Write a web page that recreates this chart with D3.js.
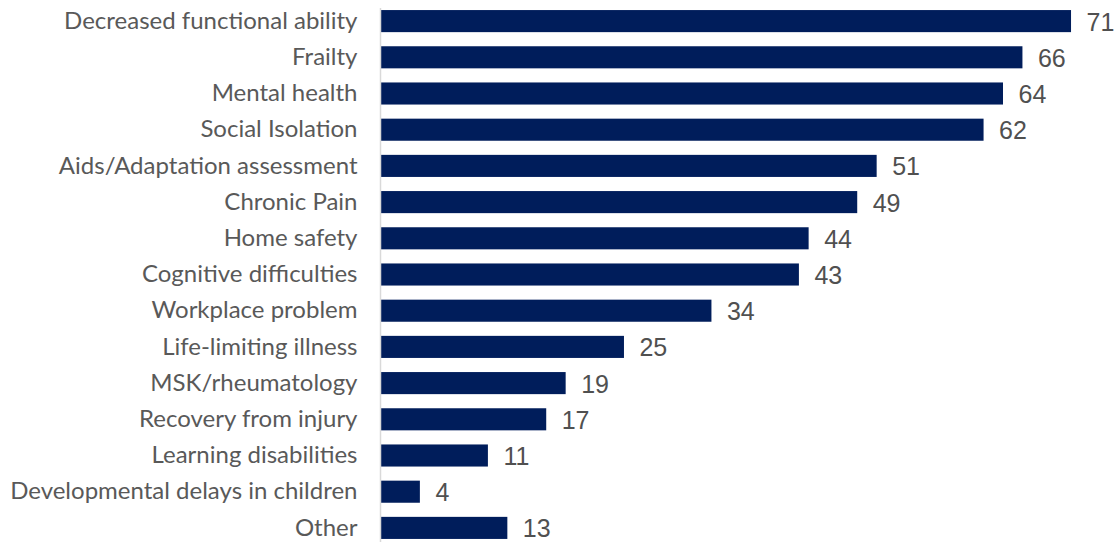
<!DOCTYPE html>
<html>
<head>
<meta charset="utf-8">
<script src="https://cdn.jsdelivr.net/npm/d3@7"></script>
<style>
  html, body { margin: 0; padding: 0; background: #fff; }
  svg { display: block; font-family: Lato, "Open Sans", sans-serif; }
</style>
</head>
<body>
<svg id="chart" width="1119" height="542"></svg>
<script>
// Reasons for referral, count of responses
const categories = [
  "Decreased functional ability",
  "Frailty",
  "Mental health",
  "Social Isolation",
  "Aids/Adaptation assessment",
  "Chronic Pain",
  "Home safety",
  "Cognitive difficulties",
  "Workplace problem",
  "Life-limiting illness",
  "MSK/rheumatology",
  "Recovery from injury",
  "Learning disabilities",
  "Developmental delays in children",
  "Other"
];
const values = [71, 66, 64, 62, 51, 49, 44, 43, 34, 25, 19, 17, 11, 4, 13];

const svg = d3.select("#chart");
const axisX = 381;

const x = d3.scaleLinear().domain([0, 80]).range([axisX, axisX + 777.5]);
const y = d3.scaleBand().domain(categories).range([3, 546])
  .paddingInner(0.39).paddingOuter(0.195);

// bars
svg.append("g").selectAll("rect")
  .data(categories)
  .join("rect")
  .attr("x", x(0))
  .attr("y", d => y(d))
  .attr("width", (d, i) => x(values[i]) - x(0))
  .attr("height", y.bandwidth())
  .attr("fill", "#001D5B");

// category axis (line only, labels right-aligned)
const yAxis = d3.axisLeft(y).tickSize(0).tickPadding(23);
const gy = svg.append("g").attr("transform", `translate(${axisX - 0.5},0)`).call(yAxis);
gy.select(".domain").attr("stroke", "#d9d9d9").attr("stroke-width", 1.5)
  .attr("d", `M0,8V542`);
gy.selectAll("text")
  .attr("fill", "#595959")
  .style("font-size", "24px")
  .style("font-family", "Lato, 'Open Sans', sans-serif");

// value labels
svg.append("g").selectAll("text")
  .data(categories)
  .join("text")
  .attr("x", (d, i) => x(values[i]) + 15.5)
  .attr("y", d => y(d) + y.bandwidth() / 2)
  .attr("dy", "0.38em")
  .attr("fill", "#505050")
  .style("font-size", "25px")
  .style("font-family", "'Liberation Sans', Arial, sans-serif")
  .text((d, i) => values[i]);
</script>
</body>
</html>
